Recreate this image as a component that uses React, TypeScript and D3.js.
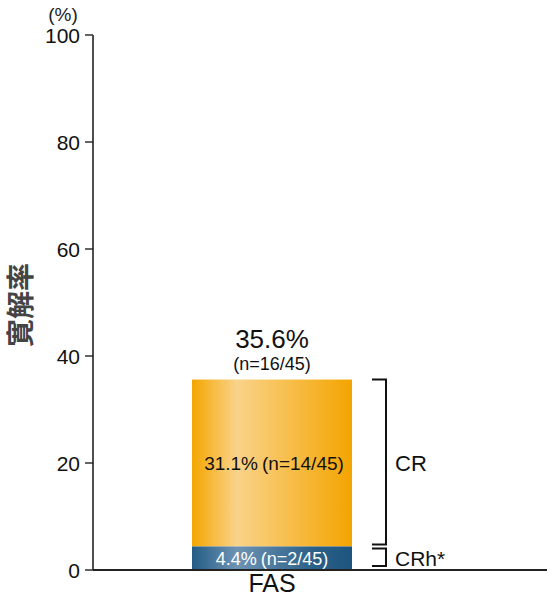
import React from "react";
import * as d3 from "d3";

const categories = ["FAS"];
const crValues = [31.1];
const crhValues = [4.4];
const totalValues = [35.6];
const crPct = ["31.1%"];
const crN = ["(n=14/45)"];
const crhPct = ["4.4%"];
const crhN = ["(n=2/45)"];
const totalLabels = ["35.6%"];
const totalSubLabels = ["(n=16/45)"];
const yTicks = [0, 20, 40, 60, 80, 100];

const W = 547, H = 599;
const left = 93, top = 35, bottom = 570, right = 547;

export default function App() {
  const y = d3.scaleLinear().domain([0, 100]).range([bottom, top]);
  const x = d3.scaleBand().domain(categories).range([192, 352]).padding(0);
  const font = "'Liberation Sans', Arial, Helvetica, sans-serif";
  return (
    <svg width={W} height={H} style={{ position: "absolute", left: 0, top: 0 }} fontFamily={font}>
      <defs>
        <linearGradient id="gOr" x1="0" x2="1" y1="0" y2="0">
          <stop offset="0" stopColor="#F4A600" />
          <stop offset="0.28" stopColor="#F9D38A" />
          <stop offset="0.75" stopColor="#F6B530" />
          <stop offset="1" stopColor="#F4A400" />
        </linearGradient>
        <linearGradient id="gBl" x1="0" x2="1" y1="0" y2="0">
          <stop offset="0" stopColor="#245C85" />
          <stop offset="0.28" stopColor="#6E93B3" />
          <stop offset="0.75" stopColor="#2C6189" />
          <stop offset="1" stopColor="#1C557F" />
        </linearGradient>
      </defs>
      {/* y axis */}
      <line x1={left} x2={left} y1={y(100)} y2={bottom} stroke="#222" strokeWidth={1.6} />
      {yTicks.map((t) => (
        <g key={t}>
          <line x1={left - 8} x2={left} y1={y(t)} y2={y(t)} stroke="#222" strokeWidth={1.4} />
          <text x={80} y={y(t)} dy="0.36em" textAnchor="end" fontSize={21} fill="#111">{t}</text>
        </g>
      ))}
      <text x={63} y={21} textAnchor="middle" fontSize={19} fill="#222">(%)</text>
      <text transform={`translate(31,${305}) rotate(-90)`} textAnchor="middle" fontSize={28} fontWeight="bold" fill="#444" fontFamily="'Noto Sans CJK JP', sans-serif">寛解率</text>
      {categories.map((c, i) => {
        const bx = x(c)!;
        const bw = x.bandwidth();
        const cx = bx + bw / 2;
        const yCrh = y(crhValues[i]);
        const yTot = y(totalValues[i]);
        return (
          <g key={c}>
            <rect x={bx} y={yTot} width={bw} height={yCrh - yTot} fill="url(#gOr)" />
            <rect x={bx} y={yCrh} width={bw} height={bottom - yCrh} fill="url(#gBl)" />
            <text x={cx + 2} y={y(crhValues[i] + crValues[i] / 2)} dy="0.36em" textAnchor="middle" fontSize={19} fill="#111">
              <tspan>{crPct[i]}</tspan><tspan dx={4}>{crN[i]}</tspan>
            </text>
            <text x={cx} y={(yCrh + bottom) / 2} dy="0.38em" textAnchor="middle" fontSize={18} fill="#fff">
              <tspan>{crhPct[i]}</tspan><tspan dx={4}>{crhN[i]}</tspan>
            </text>
            <text x={cx} y={yTot - 32} textAnchor="middle" fontSize={26} fill="#111">{totalLabels[i]}</text>
            <text x={cx} y={yTot - 10} textAnchor="middle" fontSize={18} fill="#111">{totalSubLabels[i]}</text>
            <text x={cx} y={bottom + 22} textAnchor="middle" fontSize={25} fill="#111">{c}</text>
            {/* brackets */}
            <path d={`M${372},${yTot} H${386} V${yCrh - 2} H${372}`} fill="none" stroke="#111" strokeWidth={2} />
            <path d={`M${372},${yCrh + 2} H${386} V${bottom - 4} H${372}`} fill="none" stroke="#111" strokeWidth={2} />
            <text x={395} y={y(crhValues[i] + crValues[i] / 2)} dy="0.36em" fontSize={22} fill="#111">CR</text>
            <text x={395} y={(yCrh + bottom) / 2} dy="0.38em" fontSize={21} fill="#111">CRh*</text>
          </g>
        );
      })}
      {/* x axis */}
      <line x1={left} x2={right} y1={bottom} y2={bottom} stroke="#222" strokeWidth={1.8} />
    </svg>
  );
}
